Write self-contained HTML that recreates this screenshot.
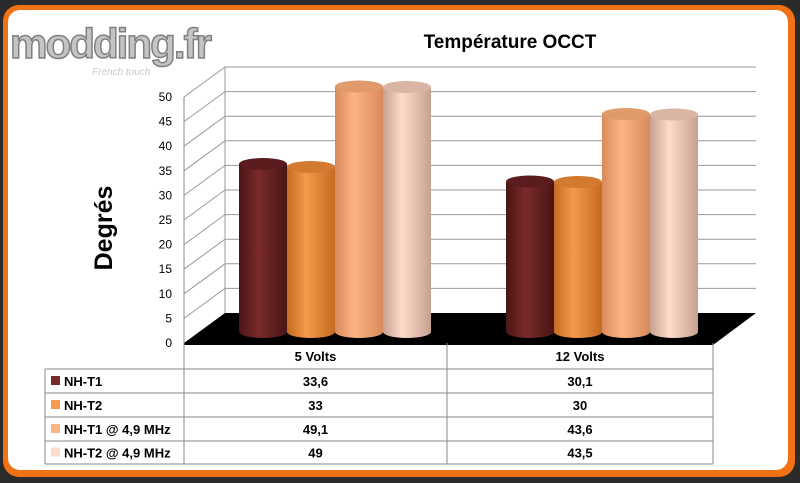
<!DOCTYPE html>
<html><head><meta charset="utf-8"><style>
html,body{margin:0;padding:0;background:#2b2b2b;}
svg{display:block;font-family:"Liberation Sans",sans-serif;}
</style></head><body>
<svg id="chart" width="800" height="483" viewBox="0 0 800 483">
<defs></defs>
<rect x="0" y="0" width="800" height="483" fill="#2b2b2b"/>
<rect x="3" y="5" width="792" height="472" rx="16" fill="#f07214"/>
<rect x="8" y="10" width="780" height="460" rx="12" fill="#ffffff"/>
<g>
<text x="10" y="58" font-size="42" font-weight="bold" fill="#c4c4c4" stroke="#808080" stroke-width="1.5" letter-spacing="-2" textLength="200" lengthAdjust="spacingAndGlyphs">modding.fr</text>
<text x="92" y="75" font-size="10" font-style="italic" fill="#c8c8c8">French touch</text>
</g>
<text x="510" y="48" font-size="19" font-weight="bold" text-anchor="middle" fill="#000">Température OCCT</text>
<text transform="translate(112,228) rotate(-90)" font-size="25" font-weight="bold" text-anchor="middle" fill="#000">Degrés</text>
<g id="grid"></g>
<g id="bars"></g>
<g id="table"></g>
</svg>
<script>
const categories = ["5 Volts", "12 Volts"];
const seriesNames = ["NH-T1", "NH-T2", "NH-T1 @ 4,9 MHz", "NH-T2 @ 4,9 MHz"];
const valuesT1 = [33.6, 30.1];
const valuesT2 = [33, 30];
const valuesT1MHz = [49.1, 43.6];
const valuesT2MHz = [49, 43.5];
const printed = [["33,6","30,1"],["33","30"],["49,1","43,6"],["49","43,5"]];
const yTicks = [0,5,10,15,20,25,30,35,40,45,50];

const series = [valuesT1, valuesT2, valuesT1MHz, valuesT2MHz];
const colors = [["#4a1515","#7a2a2a","#5a1c1c"],["#c46a22","#f5994a","#d27a30"],["#d98a5a","#fdb484","#e09a6c"],["#c7a090","#fddccb","#d9b5a3"]];
const NS = "http://www.w3.org/2000/svg";
function mk(tag, attrs, parent){const e=document.createElementNS(NS,tag);for(const k in attrs)e.setAttribute(k,attrs[k]);parent.appendChild(e);return e;}
const yFront = v => 343 - v*4.92;
const yBar = v => 332 - v*5.0;
const DX = 41, DY = -30;
const catX = i => 335 + i*267;

const grid = document.getElementById('grid');
const floor = mk('polygon',{points:`184,343 ${184+DX},${343+DY} 756,313 713,345 184,345`,fill:'#000'},grid);


const axisL = mk('line',{x1:184,y1:yFront(50),x2:184,y2:343,stroke:'#888','stroke-width':1},grid);


const wallL = mk('line',{x1:184+DX,y1:yFront(50)+DY,x2:184+DX,y2:313,stroke:'#999','stroke-width':1},grid);


yTicks.forEach(t=>{
  const y=yFront(t);
  if(t>0){
    const g1=mk('line',{x1:184,y1:y,x2:184+DX,y2:y+DY,stroke:'#999','stroke-width':1},grid);
    
    
    const g2=mk('line',{x1:184+DX,y1:y+DY,x2:756,y2:y+DY,stroke:'#999','stroke-width':1},grid);
    
    
  }
  const tx=mk('text',{x:172,y:y+4,'font-size':12,'text-anchor':'end',fill:'#000'},grid);
  tx.textContent=t;
  
  
});

const bars=document.getElementById('bars');
const W=48, RY=6;
categories.forEach((c,ci)=>{
  series.forEach((s,si)=>{
    const cx=catX(ci)+(si-1.5)*W;
    const x0=cx-W/2, top=yBar(s[ci]), base=332;
    const g=mk('g',{},bars);
    
    
    const gid='gr'+si;
    if(!document.getElementById(gid)){
      const defs=document.querySelector('defs');
      const lg=mk('linearGradient',{id:gid,x1:0,y1:0,x2:1,y2:0},defs);
      mk('stop',{offset:'0','stop-color':colors[si][0]},lg);
      mk('stop',{offset:'0.4','stop-color':colors[si][1]},lg);
      mk('stop',{offset:'1','stop-color':colors[si][0]},lg);
    }
    mk('path',{d:`M${x0},${top} L${x0},${base} A${W/2},${RY} 0 0 0 ${x0+W},${base} L${x0+W},${top} Z`,fill:`url(#${gid})`},g);
    mk('ellipse',{cx:cx,cy:top,rx:W/2,ry:RY,fill:colors[si][2]},g);
  });
});

const tb=document.getElementById('table');
const cols=[45,184,447,713], rows=[343,369,393,417,441,464];
function L(x1,y1,x2,y2){mk('line',{x1,y1,x2,y2,stroke:'#8a8a8a','stroke-width':1},tb);}
L(184,343,184,464);L(447,343,447,464);L(713,343,713,464);L(45,369,45,464);
for(let r=1;r<rows.length;r++) L(45,rows[r],713,rows[r]);
categories.forEach((c,ci)=>{
  const t=mk('text',{x:(cols[ci+1]+cols[ci+2])/2,y:361,'font-size':13,'font-weight':'bold','text-anchor':'middle'},tb);
  t.textContent=c;
  
  
});
seriesNames.forEach((n,si)=>{
  const y=rows[si+1]+(rows[si+2]-rows[si+1])/2;
  const sw=mk('rect',{x:51,y:y-5,width:9,height:9,fill:colors[si][1]},tb);
  
  
  const t=mk('text',{x:64,y:y+5,'font-size':13,'font-weight':'bold'},tb);
  t.textContent=n;
  
  
  categories.forEach((c,ci)=>{
    const v=mk('text',{x:(cols[ci+1]+cols[ci+2])/2,y:y+5,'font-size':13,'font-weight':'bold','text-anchor':'middle'},tb);
    v.textContent=printed[si][ci];
    
    
  });
});
</script>
</body></html>
